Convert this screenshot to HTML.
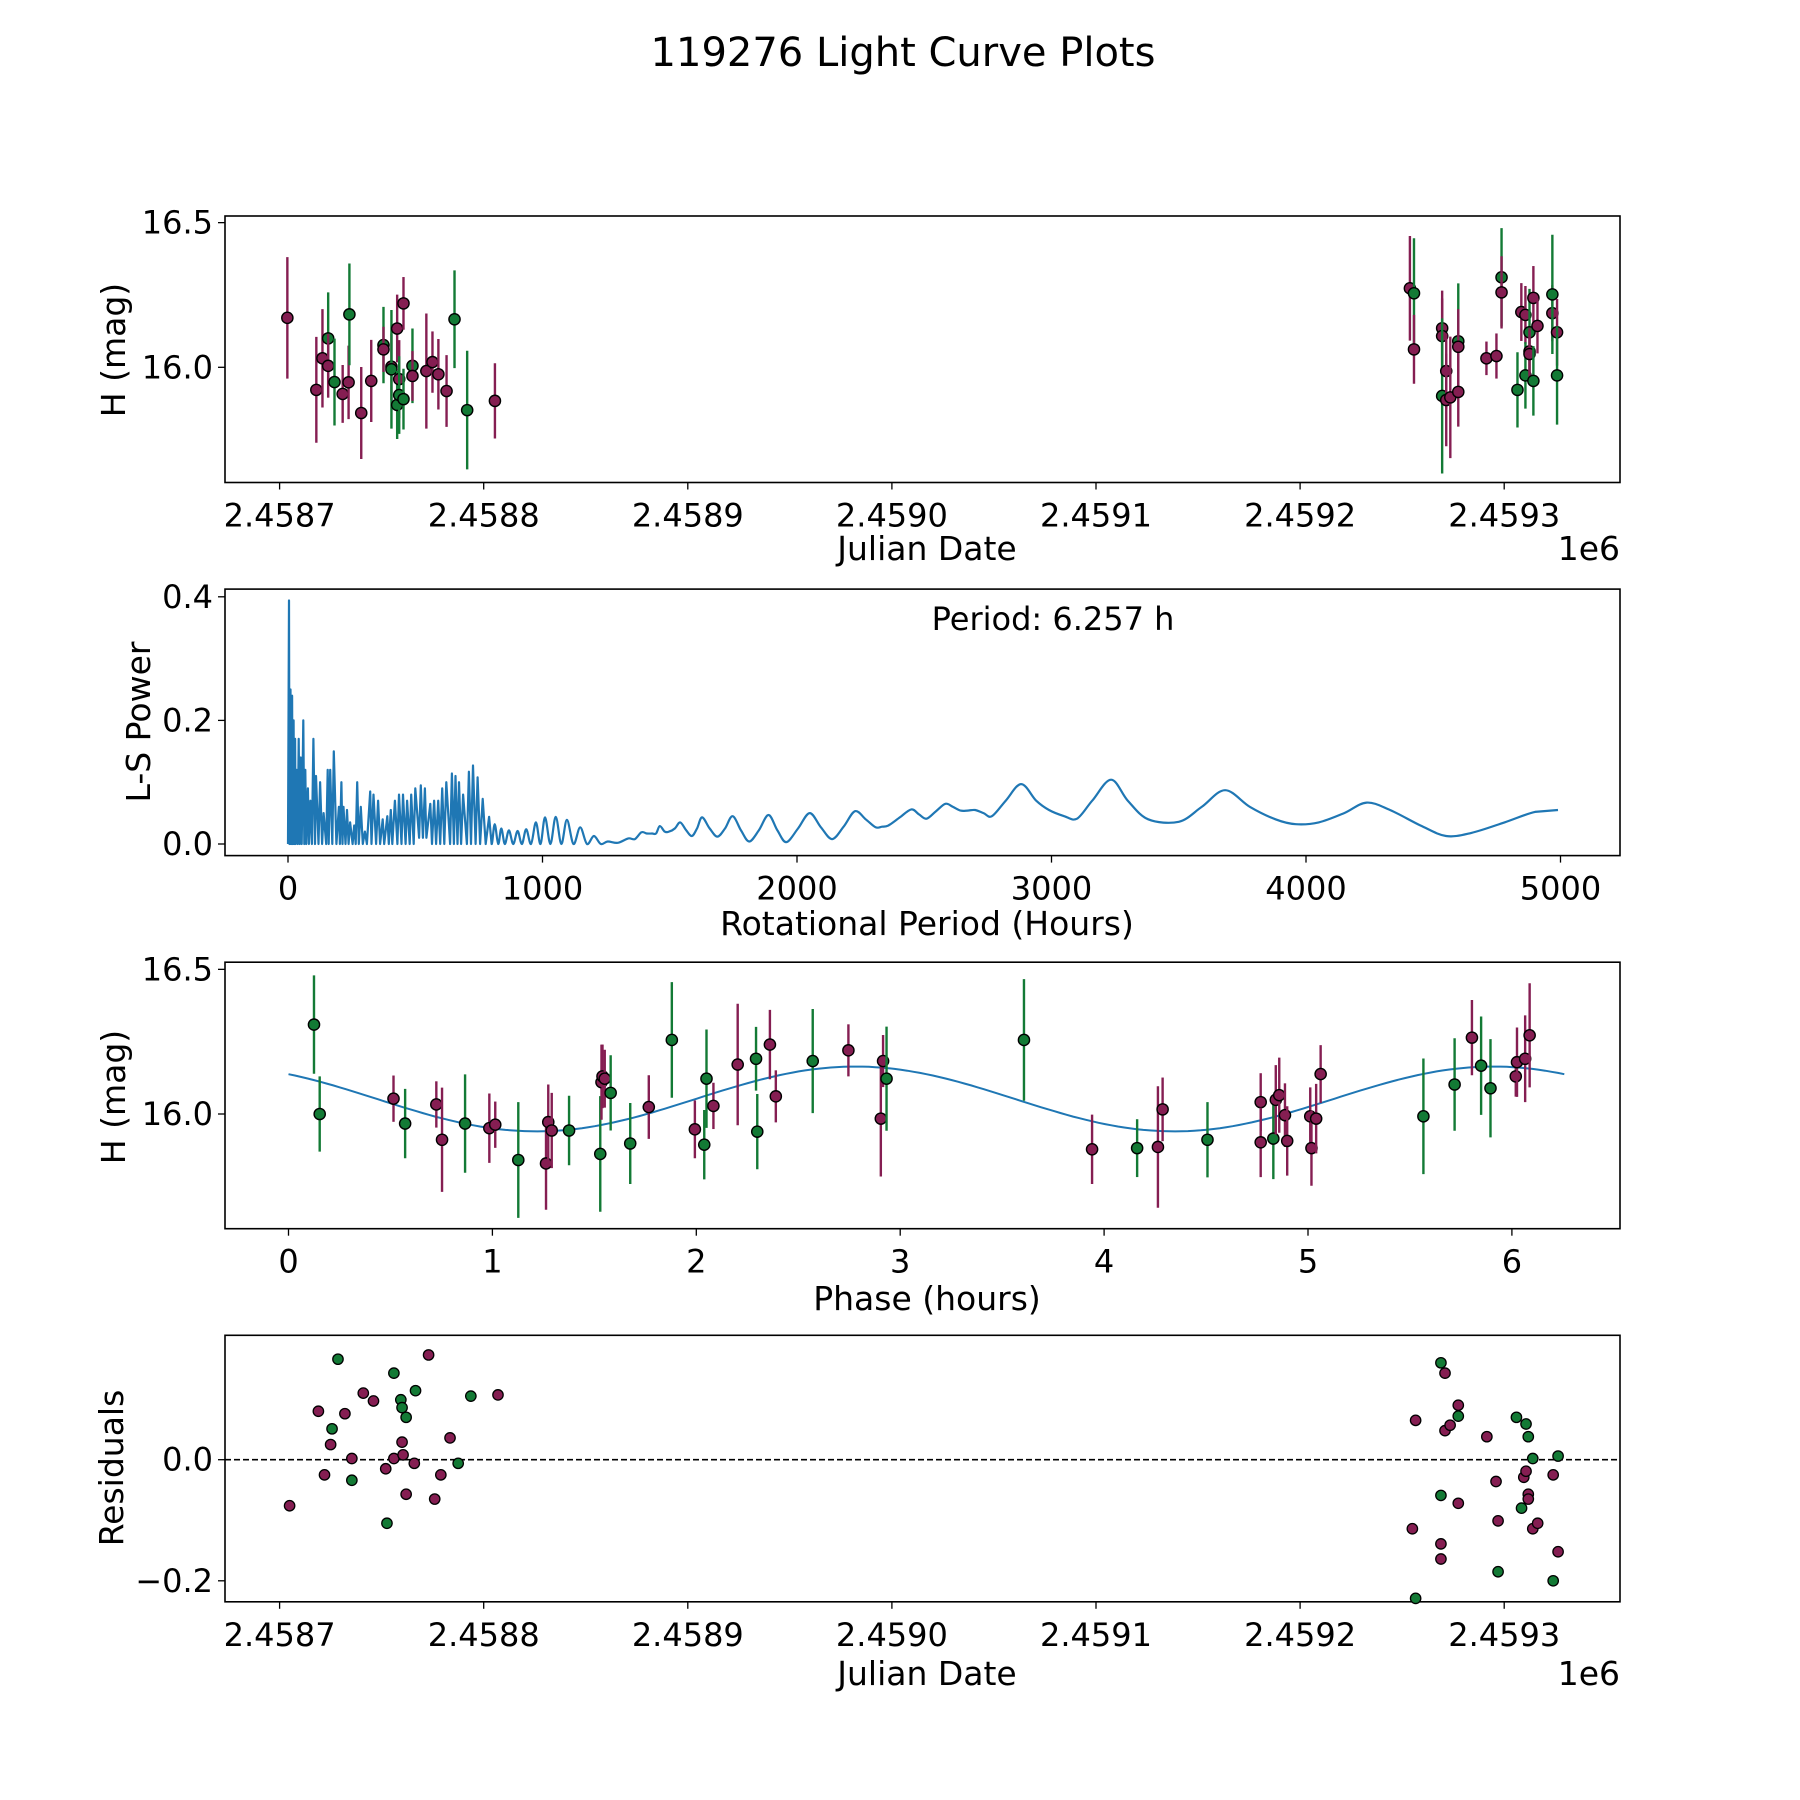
<!DOCTYPE html>
<html><head><meta charset="utf-8"><style>
html,body{margin:0;padding:0;background:#fff;}
svg{display:block;font-family:"DejaVu Sans","Liberation Sans",sans-serif;}
</style></head><body>
<svg id="fig" width="1800" height="1800" viewBox="0 0 1800 1800" xmlns="http://www.w3.org/2000/svg">
<rect width="1800" height="1800" fill="#fff"/>
<text x="903" y="66" font-size="40" text-anchor="middle">119276 Light Curve Plots</text>
</svg>
<script>
// ---------- Panel 1: light curve (JD offset from 2458700) ----------
const lcDays = [3.8,18.0,21.0,23.8,23.8,26.9,30.9,33.8,34.2,40.0,44.9,50.9,50.9,54.8,54.8,57.6,57.6,58.6,58.6,60.7,60.7,65.1,65.1,71.9,74.9,77.8,81.8,85.7,91.9,105.5,
 553.8,555.8,555.8,569.6,569.6,569.6,571.6,571.6,573.6,577.5,577.5,577.5,591.3,596.2,598.7,598.7,606.5,608.4,610.4,610.4,612.4,612.4,612.4,614.3,614.3,616.3,623.6,623.6,625.9,625.9];
const lcMag = [16.171,15.922,16.031,16.100,16.005,15.949,15.908,15.948,16.183,15.842,15.953,16.077,16.062,16.002,15.993,16.134,15.870,15.959,15.904,16.221,15.890,16.005,15.970,15.987,16.018,15.976,15.918,16.166,15.852,15.884,
 16.273,16.256,16.062,16.135,16.108,15.901,15.987,15.887,15.896,16.090,16.071,15.915,16.031,16.039,16.311,16.259,15.922,16.191,16.181,15.972,16.121,16.055,16.046,16.240,15.953,16.143,16.187,16.252,16.121,15.972];
const lcErr = [0.21,0.183,0.17,0.159,0.11,0.15,0.10,0.127,0.176,0.159,0.142,0.132,0.078,0.115,0.205,0.117,0.118,0.135,0.134,0.091,0.105,0.129,0.086,0.199,0.106,0.122,0.124,0.169,0.205,0.13,
 0.181,0.19,0.119,0.13,0.13,0.268,0.13,0.16,0.21,0.2,0.13,0.12,0.058,0.078,0.17,0.125,0.13,0.10,0.1,0.115,0.15,0.08,0.08,0.11,0.12,0.095,0.097,0.206,0.115,0.17];
const lcBand = ['p','p','p','g','p','g','p','p','g','p','p','g','p','p','g','p','g','p','g','p','g','g','p','p','p','p','p','g','g','p',
 'p','g','p','p','p','g','p','p','p','g','p','p','p','p','g','p','g','p','p','g','g','p','p','p','g','p','p','g','p','g'];
const jdTicks = ['2.4587','2.4588','2.4589','2.4590','2.4591','2.4592','2.4593'];
const jdTickDays = [0,100,200,300,400,500,600];

// ---------- Panel 2: periodogram ----------
const lsPeriod = [0,4,6,10,12,16,18,22,24,28,30,34,38,42,46,50,54,60,64,68,72,78,82,88,94,100,106,110,120,126,134,140,150,156,160,166,174,180,190,200,204,210,214,218,226,232,238,244,254,260,266,272,278,286,294,302,310,323,328,336,346,354,362,372,378,390,396,404,410,420,430,436,446,452,462,468,478,484,494,500,515,522,530,538,544,559,566,574,582,590,598,606,614,622,637,644,652,658,666,672,680,688,703,711,719,727,737,745,755,765,777,790,800,812,826,838,852,868,885,902,919,936,955,974,992,1010,1031,1052,1074,1096,1122,1148,1175,1202,1229,1256,1296,1337,1363,1389,1410,1431,1446,1461,1480,1497,1520,1541,1565,1587,1607,1627,1657,1687,1717,1747,1780,1812,1850,1888,1923,1958,2004,2050,2094,2138,2183,2228,2270,2309,2334,2359,2404,2449,2479,2509,2546,2583,2613,2643,2670,2700,2733,2766,2820,2881,2940,2990,3050,3100,3160,3234,3300,3380,3500,3590,3682,3780,3880,3960,4050,4150,4238,4330,4450,4550,4650,4780,4900,4990];
const lsPower = [0.0,0.394,0.0,0.25,0.0,0.24,0.0,0.2,0.0,0.17,0.0,0.12,0.0,0.17,0.0,0.14,0.0,0.2,0.0,0.12,0.0,0.09,0.0,0.07,0.0,0.17,0.0,0.11,0.0,0.10,0.0,0.05,0.0,0.12,0.0,0.12,0.0,0.15,0.0,0.06,0.0,0.10,0.0,0.06,0.0,0.055,0.0,0.035,0.0,0.03,0.0,0.10,0.0,0.06,0.0,0.02,0.0,0.085,0.0,0.08,0.0,0.07,0.0,0.04,0.0,0.045,0.0,0.055,0.0,0.07,0.0,0.08,0.0,0.08,0.0,0.07,0.0,0.08,0.0,0.09,0.01,0.095,0.01,0.09,0.01,0.065,0.0,0.07,0.0,0.07,0.0,0.09,0.0,0.10,0.0,0.114,0.0,0.11,0.0,0.10,0.0,0.08,0.0,0.117,0.0,0.127,0.0,0.108,0.0,0.073,0.0,0.044,0.0,0.032,0.0,0.025,0.0,0.022,0.0,0.021,0.0,0.024,0.0,0.035,0.0,0.043,0.0,0.044,0.0,0.039,0.0,0.027,0.0,0.013,0.0,0.004,0.002,0.009,0.008,0.019,0.017,0.017,0.017,0.029,0.02,0.02,0.025,0.035,0.022,0.013,0.025,0.043,0.025,0.012,0.025,0.045,0.022,0.004,0.022,0.047,0.022,0.003,0.025,0.05,0.027,0.008,0.028,0.053,0.04,0.027,0.028,0.03,0.043,0.056,0.048,0.041,0.053,0.065,0.06,0.054,0.054,0.055,0.05,0.045,0.07,0.097,0.07,0.055,0.045,0.041,0.07,0.104,0.07,0.04,0.036,0.06,0.087,0.06,0.04,0.032,0.035,0.05,0.067,0.055,0.03,0.013,0.018,0.035,0.052,0.055];
const lsXTicks = [0,1000,2000,3000,4000,5000];
const lsYTicks = [0.0,0.2,0.4];

// ---------- Panel 3: phased curve ----------
const phHours = [0.125,0.153,0.515,0.572,0.725,0.753,0.866,0.985,1.014,1.127,1.263,1.274,1.291,1.376,1.529,1.535,1.54,1.551,1.58,1.676,1.767,1.88,1.993,2.039,2.05,2.084,2.203,2.293,2.299,2.361,2.39,2.571,2.746,2.905,2.916,2.933,3.607,3.941,4.162,4.264,4.287,4.507,4.768,4.768,4.83,4.842,4.859,4.887,4.898,5.011,5.017,5.04,5.062,5.566,5.719,5.804,5.849,5.895,6.019,6.025,6.065,6.087];
const phMag = [16.309,16.0,16.053,15.967,16.033,15.911,15.967,15.951,15.963,15.841,15.829,15.972,15.943,15.943,15.862,16.11,16.13,16.122,16.073,15.898,16.024,16.256,15.947,15.894,16.122,16.028,16.171,16.191,15.939,16.24,16.061,16.183,16.22,15.984,16.183,16.122,16.256,15.878,15.882,15.886,16.016,15.911,16.041,15.902,15.915,16.049,16.065,15.996,15.907,15.992,15.882,15.984,16.138,15.992,16.102,16.264,16.167,16.089,16.13,16.179,16.191,16.272];
const phErr = [0.17,0.13,0.08,0.12,0.08,0.18,0.17,0.12,0.08,0.2,0.16,0.13,0.13,0.12,0.2,0.13,0.11,0.1,0.13,0.14,0.11,0.2,0.1,0.12,0.17,0.08,0.21,0.11,0.13,0.12,0.09,0.18,0.09,0.2,0.09,0.18,0.21,0.12,0.1,0.21,0.11,0.13,0.1,0.12,0.14,0.12,0.13,0.11,0.12,0.1,0.13,0.12,0.1,0.2,0.16,0.13,0.17,0.17,0.07,0.12,0.15,0.18];
const phBand = ['g','g','p','g','p','p','g','p','p','g','p','p','p','g','g','p','p','p','g','g','p','g','p','g','g','p','p','g','g','p','p','g','p','p','p','g','g','p','g','p','p','g','p','p','g','p','p','p','p','p','p','p','p','g','g','p','g','g','p','p','p','p'];
const fitMean = [16.052];
const fitAmp = [0.112];
const fitPeak = [2.78];
const fitPeriod = [6.257];
const phXTicks = [0,1,2,3,4,5,6];
const magTicks = [16.0,16.5];

// ---------- Panel 4: residuals ----------
const resDays = [4.9,19,22,25,25.7,28.6,32,35.4,35.4,41,46,52,52.6,56,56,59.4,60,60,60.5,62,62,66,66.6,73,76,79,83.5,87.5,93.7,107,
 555,556.6,556.6,569,569,569,569,571,571,573.5,577.5,577.5,577.5,591.5,596,597,597,606,608.5,609.6,610.7,610.7,611.8,611.8,611.8,614,614,616.4,624,624,626.4,626.4];
const resVal = [-0.076,0.08,-0.025,0.025,0.051,0.166,0.076,0.002,-0.034,0.11,0.097,-0.015,-0.105,0.143,0.002,0.099,0.086,0.029,0.008,0.07,-0.057,-0.006,0.114,0.173,-0.065,-0.025,0.036,-0.006,0.105,0.107,
 -0.114,0.065,-0.229,0.16,-0.059,-0.139,-0.164,0.143,0.048,0.057,0.09,0.072,-0.072,0.038,-0.036,-0.101,-0.185,0.07,-0.08,-0.029,0.059,-0.019,0.038,-0.057,-0.065,0.002,-0.114,-0.105,-0.025,-0.2,0.006,-0.152];
const resBand = ['p','p','p','p','g','g','p','p','g','p','p','p','g','g','p','g','g','p','p','g','p','p','g','p','p','p','p','g','g','p',
 'p','p','g','g','g','p','p','p','p','p','p','g','p','p','p','p','g','g','g','p','g','p','g','p','p','g','p','p','p','g','g','p'];
const resTicks = [-0.2,0.0];

const NS='http://www.w3.org/2000/svg';
const svg=document.getElementById('fig');
const COL={p:'#851e52',g:'#137a35'};
function mk(tag,attrs,parent){const e=document.createElementNS(NS,tag);for(const k in attrs)e.setAttribute(k,attrs[k]);(parent||svg).appendChild(e);return e;}
function txt(s,x,y,size,anchor,parent,rot){const e=mk('text',{x:x,y:y,'font-size':size,'text-anchor':anchor||'middle'},parent);if(rot)e.setAttribute('transform','rotate(-90 '+x+' '+y+')');e.textContent=s;return e;}

const L=225,R=1620,H=266.5;
const tops=[216,589.1,962.2,1335.3];

const xJD=d=>279.6+d*2.041;
const yMag1=m=>367.3-(m-16)*289.3;
const xLS=h=>288+h*0.2545;
const yLS=p=>844-p*618;
const xPh=h=>288.5+h*203.9;
const yMag3=m=>1114-(m-16)*289.3;
const yRes=r=>1459.7-r*605.5;

function frame(i,name){const r=mk('rect',{x:L,y:tops[i],width:R-L,height:H,fill:'none',stroke:'#000','stroke-width':1.6});

}
function xtick(px,yb,label,name){const g=mk('g',{});


mk('line',{x1:px,y1:yb,x2:px,y2:yb+7,stroke:'#000','stroke-width':1.3},g);txt(label,px,yb+44,32,'middle',g);}
function ytick(py,label,name){const g=mk('g',{});


mk('line',{x1:L-7,y1:py,x2:L,y2:py,stroke:'#000','stroke-width':1.3},g);txt(label,L-12,py+11,32,'end',g);}
function errPoint(x,y,y1,y2,c,name){const g=mk('g',{});


mk('line',{x1:x,y1:y1,x2:x,y2:y2,stroke:c,'stroke-width':2.4},g);
mk('circle',{cx:x,cy:y,r:5.6,fill:c,stroke:'#000','stroke-width':1.4},g);}

// Panel 1
frame(0,'light-curve-axes');
for(let i=0;i<lcDays.length;i++){const m=lcMag[i],e=lcErr[i];
errPoint(xJD(lcDays[i]),yMag1(m),yMag1(m+e),yMag1(m-e),COL[lcBand[i]],'light-curve-point');}
jdTickDays.forEach((d,i)=>xtick(xJD(d),tops[0]+H,jdTicks[i],'jd-tick'));
magTicks.forEach(m=>ytick(yMag1(m),m.toFixed(1),'mag-tick'));
txt('Julian Date',927,560,33,'middle');
txt('1e6',1620,560,33,'end');
txt('H (mag)',125,350,33,'middle',null,true);

// Panel 2
frame(1,'periodogram-axes');
const pts=lsPeriod.map((h,i)=>[xLS(h),yLS(lsPower[i])]);
let d='M'+pts[0][0].toFixed(1)+' '+pts[0][1].toFixed(1);
for(let i=1;i<pts.length;i++){
  if(lsPeriod[i]<=800||i>=pts.length-1){d+='L'+pts[i][0].toFixed(1)+' '+pts[i][1].toFixed(1);continue;}
  const p0=pts[i-1],p1=pts[i],p2=pts[i+1],pm=pts[Math.max(0,i-2)];
  const c1x=p0[0]+(p1[0]-pm[0])/6,c1y=p0[1]+(p1[1]-pm[1])/6;
  const c2x=p1[0]-(p2[0]-p0[0])/6,c2y=p1[1]-(p2[1]-p0[1])/6;
  d+='C'+c1x.toFixed(1)+' '+c1y.toFixed(1)+' '+c2x.toFixed(1)+' '+c2y.toFixed(1)+' '+p1[0].toFixed(1)+' '+p1[1].toFixed(1);
}
const pl=mk('path',{d:d,fill:'none',stroke:'#1f77b4','stroke-width':2.2,'stroke-linejoin':'round'});


lsXTicks.forEach(h=>xtick(xLS(h),tops[1]+H,String(h),'period-tick'));
lsYTicks.forEach(p=>ytick(yLS(p),p.toFixed(1),'power-tick'));
txt('Period: 6.257 h',1053,630,32,'middle');
txt('Rotational Period (Hours)',927,935,33,'middle');
txt('L-S Power',150,722,33,'middle',null,true);

// Panel 3
frame(2,'phase-axes');
let fd='';for(let k=0;k<=200;k++){const h=fitPeriod[0]*k/200;const m=fitMean[0]+fitAmp[0]*Math.cos(2*Math.PI*(h-fitPeak[0])/(fitPeriod[0]/2));fd+=(k?'L':'M')+xPh(h).toFixed(1)+' '+yMag3(m).toFixed(1);}
const fl=mk('path',{d:fd,fill:'none',stroke:'#1f77b4','stroke-width':2});


for(let i=0;i<phHours.length;i++){const m=phMag[i],e=phErr[i];
errPoint(xPh(phHours[i]),yMag3(m),yMag3(m+e),yMag3(m-e),COL[phBand[i]],'phase-point');}
phXTicks.forEach(h=>xtick(xPh(h),tops[2]+H,String(h),'phase-tick'));
magTicks.forEach(m=>ytick(yMag3(m),m.toFixed(1),'phase-mag-tick'));
txt('Phase (hours)',927,1310,33,'middle');
txt('H (mag)',125,1097,33,'middle',null,true);

// Panel 4
frame(3,'residuals-axes');
const zl=mk('line',{x1:L,y1:yRes(0),x2:R,y2:yRes(0),stroke:'#000','stroke-width':1.6,'stroke-dasharray':'6,3'});


for(let i=0;i<resDays.length;i++){const c=mk('circle',{cx:xJD(resDays[i]),cy:yRes(resVal[i]),r:5.2,fill:COL[resBand[i]],stroke:'#000','stroke-width':1.3});

}
jdTickDays.forEach((d,i)=>xtick(xJD(d),tops[3]+H,jdTicks[i],'res-jd-tick'));
resTicks.forEach(r=>ytick(yRes(r),(r<0?'\u2212':'')+Math.abs(r).toFixed(1),'res-tick'));
txt('Julian Date',927,1685,33,'middle');
txt('1e6',1620,1685,33,'end');
txt('Residuals',123,1468,33,'middle',null,true);
</script>
</body></html>
